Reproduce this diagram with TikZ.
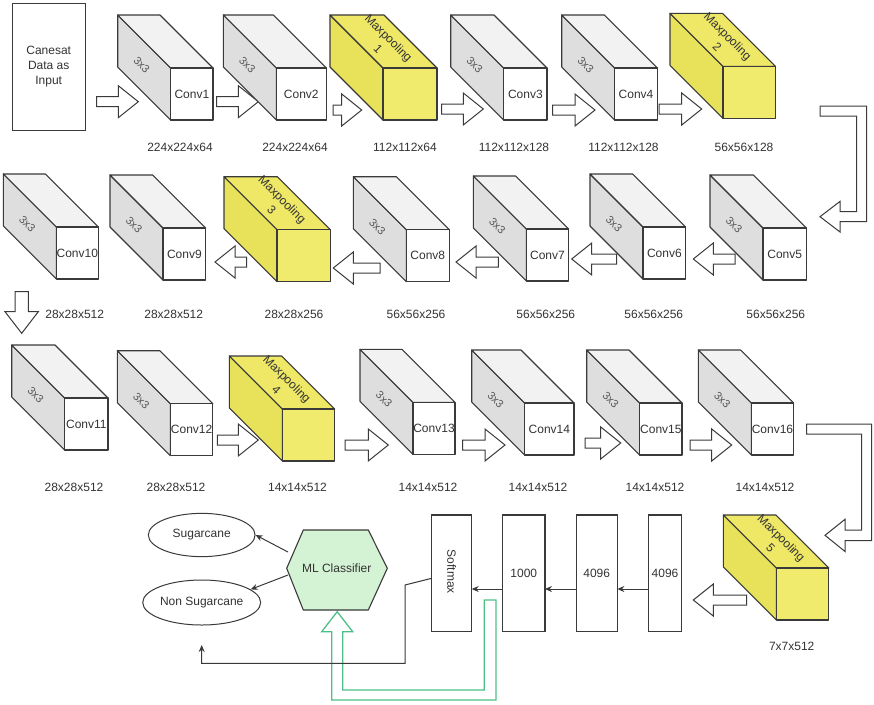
\documentclass[tikz,border=0pt]{standalone}
\usepackage{fontspec}
\setmainfont{Liberation Sans}
\usetikzlibrary{arrows.meta,shapes.geometric}
\definecolor{edge}{HTML}{3A3A3A}
\definecolor{gside}{HTML}{DEDEDE}
\definecolor{gtop}{HTML}{F2F2F2}
\definecolor{yside}{HTML}{E8E25A}
\definecolor{ytop}{HTML}{EEE866}
\definecolor{yfront}{HTML}{F0EB6C}
\definecolor{hexfill}{HTML}{D4F2D4}
\definecolor{garrow}{HTML}{4FBF88}
\definecolor{txt}{HTML}{333333}
\definecolor{ktxt}{HTML}{555555}
\tikzset{
  every node/.style={font=\fontsize{12}{14.5}\selectfont, text=txt},
  cubeline/.style={draw=edge, line width=1.1pt, line join=round},
  sidetext/.style={rotate=-45, font=\fontsize{11}{13}\selectfont, text=ktxt},
  pooltext/.style={rotate=-45, align=center, font=\fontsize{12}{15}\selectfont},
  blockarrow/.style={draw=edge, fill=white, line width=1pt, line join=miter},
  fcbox/.style={draw=edge, fill=white, line width=1.1pt, inner sep=0pt, outer sep=0pt},
  thinarrow/.style={draw=edge, line width=1pt, -{Stealth[length=7pt,width=6pt]}},
  greenarrow/.style={draw=garrow, line width=1.3pt, line join=miter},
  oval/.style={ellipse, draw=edge, line width=1pt, inner sep=0pt}
}
\newcommand\cubebody[8]{%
  \begin{scope}[shift={(#1,#2)}]
    \filldraw[cubeline,fill=#4] (0,0) -- (53,53) -- (53,105) -- (0,52) -- cycle;
    \filldraw[cubeline,fill=#5] (0,0) -- (#3,0) -- ({#3+53},53) -- (53,53) -- cycle;
    \node[cubeline,fill=#6,minimum width=#3pt,minimum height=52pt,inner sep=0pt,outer sep=0pt] (#7) at ({53+#3/2},79) {#8};
  \end{scope}}
\newcommand\convcube[5]{%
  \cubebody{#2}{#3}{#4}{gside}{gtop}{white}{#1}{#5}
  \node[sidetext] (#1-k) at ({#2+24},{#3+50}) {3x3};}
\newcommand\poolcube[5]{%
  \cubebody{#2}{#3}{#4}{yside}{ytop}{yfront}{#1}{}
  \node[pooltext] (#1-t) at ({#2+(#4+53)/2},{#3+28}) {Maxpooling\\#5};}
\newcommand\barrow[3]{%
  \pgfmathsetmacro\hb{(#2>#1) ? (#2-20) : (#2+20)}%
  \filldraw[blockarrow] (#1,{#3-5}) -- (\hb,{#3-5}) -- (\hb,{#3-16}) -- (#2,#3) -- (\hb,{#3+16}) -- (\hb,{#3+5}) -- (#1,{#3+5}) -- cycle;}
\begin{document}
\begin{tikzpicture}[x=1pt,y=-1pt]
\useasboundingbox[fill=white] (0,0) rectangle (874,704);

% input
\node[fcbox, minimum width=72.7pt, minimum height=126.7pt, align=center, font=\fontsize{12}{15}\selectfont] (input) at (48.7,66.7) {Canesat\\Data as\\Input};

% block arrows (drawn below cubes)
\barrow{96.7}{138.3}{101.7}
\barrow{216.7}{258.3}{101.7}
\barrow{333}{361.7}{110}
\barrow{441.7}{483.3}{109}
\barrow{552.7}{595}{110}
\barrow{659}{701.7}{109}
\barrow{735}{693.3}{259}
\barrow{616.7}{571.7}{259}
\barrow{498.3}{456}{262}
\barrow{380}{333.3}{268}
\barrow{246.7}{215}{262}
\barrow{217.3}{258.3}{440}
\barrow{345}{388.3}{445}
\barrow{462.7}{505}{445}
\barrow{585}{620.7}{443}
\barrow{690}{731.7}{445}
\barrow{746.7}{693.3}{600}
% down arrow
\filldraw[blockarrow] (15,291.7) -- (28.3,291.7) -- (28.3,311.7) -- (38.3,311.7) -- (21.7,333.3) -- (5,311.7) -- (15,311.7) -- cycle;
% L arrows
\filldraw[blockarrow] (820,106) -- (866.7,106) -- (866.7,221.7) -- (840,221.7) -- (840,232) -- (820,216.7) -- (840,201.4) -- (840,211.7) -- (856.7,211.7) -- (856.7,116) -- (820,116) -- cycle;
\filldraw[blockarrow] (806.7,424) -- (871.7,424) -- (871.7,540.5) -- (845,540.5) -- (845,551.5) -- (825,535.3) -- (845,519.3) -- (845,530) -- (861.7,530) -- (861.7,434) -- (806.7,434) -- cycle;

% row 1
\convcube{c1}{117.7}{15}{42.3}{Conv1}
\convcube{c2}{223.3}{15}{50}{Conv2}
\poolcube{p1}{330}{15}{54}{1}
\convcube{c3}{450.7}{15}{43.3}{Conv3}
\convcube{c4}{561.7}{15}{42.7}{Conv4}
\poolcube{p2}{670}{13.3}{52.4}{2}
% row 2
\convcube{c5}{710}{175}{43.4}{Conv5}
\convcube{c6}{590}{174}{42.7}{Conv6}
\convcube{c7}{473.3}{176}{42.3}{Conv7}
\convcube{c8}{353.3}{176.7}{43}{Conv8}
\poolcube{p3}{224}{176.7}{53.3}{3}
\convcube{c9}{110}{175}{42.7}{Conv9}
\convcube{c10}{3.3}{174}{42}{Conv10}
% row 3
\convcube{c11}{11.7}{345}{43.3}{Conv11}
\convcube{c12}{117.3}{350.7}{42.6}{Conv12}
\poolcube{p4}{229.3}{356}{52.3}{4}
\convcube{c13}{360}{349.3}{42}{Conv13}
\convcube{c14}{471.7}{350}{49.3}{Conv14}
\convcube{c15}{586.7}{350}{42.3}{Conv15}
\convcube{c16}{698.3}{350}{42.3}{Conv16}
% pool 5
\poolcube{p5}{723.3}{515}{52.6}{5}

% size labels
\node (l1) at (180,147) {224x224x64};
\node (l2) at (295,147) {224x224x64};
\node (l3) at (405,147) {112x112x64};
\node (l4) at (514,147) {112x112x128};
\node (l5) at (623.5,147) {112x112x128};
\node (l6) at (744,147) {56x56x128};
\node (l7) at (74.7,314) {28x28x512};
\node (l8) at (173.7,314) {28x28x512};
\node (l9) at (294,314) {28x28x256};
\node (l10) at (416,314) {56x56x256};
\node (l11) at (545.8,314) {56x56x256};
\node (l12) at (653.8,314) {56x56x256};
\node (l13) at (775.8,314) {56x56x256};
\node (l14) at (74,487) {28x28x512};
\node (l15) at (176,487) {28x28x512};
\node (l16) at (297.5,487) {14x14x512};
\node (l17) at (428,487) {14x14x512};
\node (l18) at (538,487) {14x14x512};
\node (l19) at (655,487) {14x14x512};
\node (l20) at (765,487) {14x14x512};
\node (l21) at (791.7,646.7) {7x7x512};

% fully connected
\node[fcbox, minimum width=33.4pt, minimum height=116.7pt] (fcb) at (665,573.3) {4096};
\node[fcbox, minimum width=41.3pt, minimum height=116.7pt] (fca) at (596.7,573.3) {4096};
\node[fcbox, minimum width=42.3pt, minimum height=116.7pt] (fcc) at (523.8,573.3) {1000};
\node[fcbox, minimum width=40pt, minimum height=116.7pt] (soft) at (451.7,573.3) {};
\node[rotate=-90] (softtxt) at (451.7,571.7) {Softmax};
\draw[thinarrow] ([yshift=-15.7pt]fcb.west) -- ([yshift=-15.7pt]fca.east);
\draw[thinarrow] ([yshift=-15.7pt]fca.west) -- ([yshift=-15.7pt]fcc.east);
\draw[thinarrow] ([yshift=-15.7pt]fcc.west) -- ([yshift=-15.7pt]soft.east);

% green feedback arrow
\draw[greenarrow] (484.3,600) -- (496,600) -- (496,700) -- (331.7,700) -- (331.7,631.7) -- (321.7,631.7) -- (337.2,611.7) -- (352.7,631.7) -- (342.7,631.7) -- (342.7,690) -- (484.3,690) -- cycle;

% classifier
\filldraw[cubeline, fill=hexfill] (286.7,568.3) -- (303.3,530) -- (368.3,530) -- (387.3,568.3) -- (368.3,610) -- (303.3,610) -- cycle;
\node (mlc) at (336.7,568.3) {ML Classifier};
\node[oval, minimum width=106.7pt, minimum height=43.3pt] (sugar) at (201.7,535) {Sugarcane};
\node[oval, minimum width=106.7pt, minimum height=45pt] (nonsugar) at (201.7,602.5) {Non Sugarcane};
\coordinate (hexu) at (288,552);
\coordinate (hexl) at (288,575);
\draw[thinarrow] (hexu) -- (sugar.east);
\draw[thinarrow] (hexl) -- (nonsugar.15);

% softmax output line
\coordinate (outend) at (201.7,645);
\draw[thinarrow] ([yshift=-5pt]soft.west) -- (405,585) -- (405,663.3) -- (201.7,663.3) -- (outend);
\end{tikzpicture}
\end{document}
